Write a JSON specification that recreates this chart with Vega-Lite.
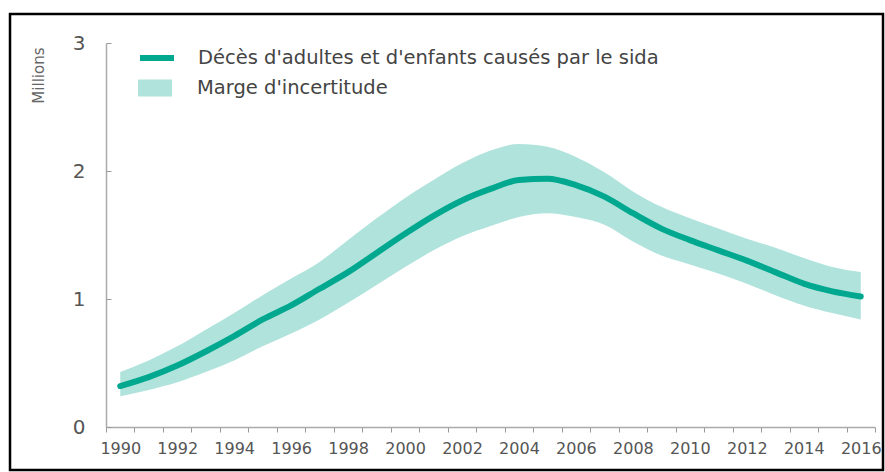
{
  "$schema": "https://vega.github.io/schema/vega-lite/v6.json",
  "width": 873,
  "height": 456,
  "autosize": {"type": "none"},
  "padding": {"left": 10, "top": 14, "right": 2, "bottom": 2},
  "background": "#ffffff",
  "config": {
    "font": "DejaVu Sans",
    "view": {"stroke": "#000000", "strokeWidth": 2.5},
    "axis": {"grid": false, "domainColor": "#aaaaaa", "domainWidth": 1.5, "tickColor": "#999999", "labelColor": "#555555", "titleColor": "#666666"}
  },
  "data": {"values": [
    {"year": 1990, "deaths": 0.32, "low": 0.24, "high": 0.43},
    {"year": 1991, "deaths": 0.39, "low": 0.29, "high": 0.52},
    {"year": 1992, "deaths": 0.48, "low": 0.35, "high": 0.63},
    {"year": 1993, "deaths": 0.59, "low": 0.43, "high": 0.76},
    {"year": 1994, "deaths": 0.71, "low": 0.52, "high": 0.89},
    {"year": 1995, "deaths": 0.84, "low": 0.63, "high": 1.03},
    {"year": 1996, "deaths": 0.95, "low": 0.73, "high": 1.16},
    {"year": 1997, "deaths": 1.08, "low": 0.84, "high": 1.29},
    {"year": 1998, "deaths": 1.21, "low": 0.97, "high": 1.46},
    {"year": 1999, "deaths": 1.36, "low": 1.11, "high": 1.63},
    {"year": 2000, "deaths": 1.51, "low": 1.25, "high": 1.79},
    {"year": 2001, "deaths": 1.65, "low": 1.38, "high": 1.93},
    {"year": 2002, "deaths": 1.77, "low": 1.49, "high": 2.06},
    {"year": 2003, "deaths": 1.86, "low": 1.57, "high": 2.16},
    {"year": 2004, "deaths": 1.93, "low": 1.64, "high": 2.21},
    {"year": 2005, "deaths": 1.94, "low": 1.67, "high": 2.19},
    {"year": 2006, "deaths": 1.89, "low": 1.64, "high": 2.11},
    {"year": 2007, "deaths": 1.80, "low": 1.58, "high": 1.99},
    {"year": 2008, "deaths": 1.67, "low": 1.45, "high": 1.84},
    {"year": 2009, "deaths": 1.55, "low": 1.34, "high": 1.72},
    {"year": 2010, "deaths": 1.46, "low": 1.27, "high": 1.63},
    {"year": 2011, "deaths": 1.38, "low": 1.20, "high": 1.55},
    {"year": 2012, "deaths": 1.30, "low": 1.12, "high": 1.47},
    {"year": 2013, "deaths": 1.21, "low": 1.03, "high": 1.40},
    {"year": 2014, "deaths": 1.12, "low": 0.95, "high": 1.32},
    {"year": 2015, "deaths": 1.06, "low": 0.89, "high": 1.25},
    {"year": 2016, "deaths": 1.02, "low": 0.84, "high": 1.21}
  ]},
  "encoding": {
    "x": {
      "field": "year", "type": "quantitative",
      "scale": {"domain": [1989.5, 2016.5], "range": [96, 865], "nice": false, "zero": false},
      "axis": {
        "title": null, "offset": -43,
        "values": [1989.5, 1990, 1990.5, 1991.5, 1992, 1992.5, 1993.5, 1994, 1994.5, 1995.5, 1996, 1996.5, 1997.5, 1998, 1998.5, 1999.5, 2000, 2000.5, 2001.5, 2002, 2002.5, 2003.5, 2004, 2004.5, 2005.5, 2006, 2006.5, 2007.5, 2008, 2008.5, 2009.5, 2010, 2010.5, 2011.5, 2012, 2012.5, 2013.5, 2014, 2014.5, 2015.5, 2016, 2016.5],
        "tickOpacity": {"condition": {"test": "datum.value % 1 === 0", "value": 0}, "value": 1},
        "tickSize": 5,
        "labelExpr": "datum.value % 2 === 0 ? '' + datum.value : ''",
        "labelOverlap": false, "labelFlush": false,
        "labelFontSize": 16, "labelPadding": 8
      }
    }
  },
  "layer": [
    {
      "mark": {"type": "area", "opacity": 1, "interpolate": "monotone"},
      "encoding": {
        "y": {
          "field": "low", "type": "quantitative",
          "scale": {"domain": [0, 3], "range": [413, 29], "nice": false},
          "axis": {
            "title": "Millions", "offset": -96, "values": [0, 1, 2, 3], "format": "d",
            "tickSize": -5, "labelPadding": 26, "labelFontSize": 20,
            "titleFontSize": 15, "titleFontWeight": "normal",
            "titleAngle": -90, "titleAlign": "right", "titleBaseline": "middle",
            "titleX": -68, "titleY": 33
          }
        },
        "y2": {"field": "high"},
        "fill": {
          "datum": "Marge d'incertitude",
          "scale": {"range": ["#b0e3dc"]},
          "legend": {
            "title": null, "orient": "none", "legendX": 127, "legendY": 56,
            "symbolType": "M-1,-0.5H1V0.5H-1Z", "symbolSize": 1156, "symbolOpacity": 1,
            "labelFontSize": 19.5, "labelColor": "#444444", "labelOffset": 24, "labelLimit": 800, "padding": 0
          }
        }
      }
    },
    {
      "mark": {"type": "line", "strokeWidth": 6, "strokeCap": "round", "strokeJoin": "round", "interpolate": "monotone"},
      "encoding": {
        "y": {"field": "deaths", "type": "quantitative"},
        "stroke": {
          "datum": "Décès d'adultes et d'enfants causés par le sida",
          "scale": {"range": ["#00a88f"]},
          "legend": {
            "title": null, "orient": "none", "legendX": 127, "legendY": 24,
            "symbolType": "stroke", "symbolSize": 1156, "symbolStrokeWidth": 6,
            "labelFontSize": 19.5, "labelColor": "#444444", "labelOffset": 21, "labelLimit": 800, "padding": 0
          }
        }
      }
    }
  ]
}
